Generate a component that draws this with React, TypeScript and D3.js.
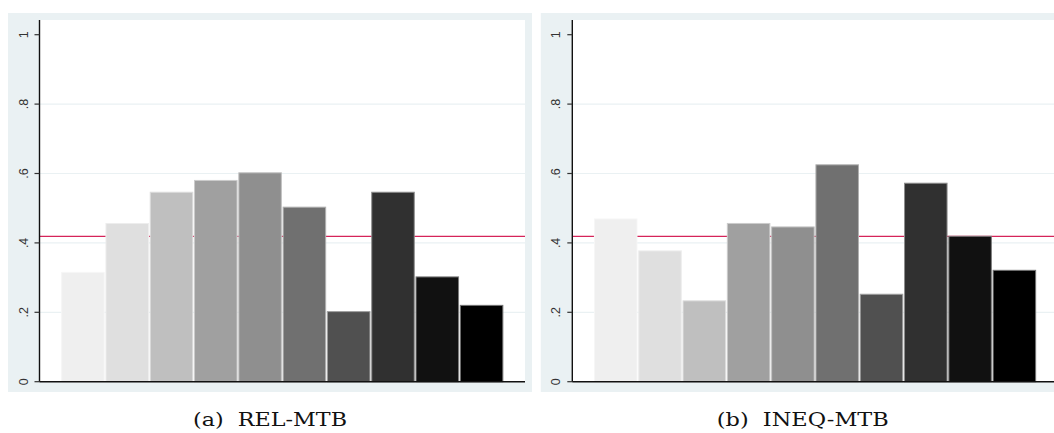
import React from "react";
import * as d3 from "d3";

// ten groups, light to dark, same order in both panels
const groups = ["1", "2", "3", "4", "5", "6", "7", "8", "9", "10"];
const grays = ["#efefef", "#dfdfdf", "#bfbfbf", "#a0a0a0", "#8f8f8f", "#707070", "#505050", "#303030", "#111111", "#000000"];

const relValues = [0.315, 0.456, 0.546, 0.58, 0.602, 0.503, 0.202, 0.546, 0.302, 0.22];
const ineqValues = [0.469, 0.377, 0.233, 0.456, 0.446, 0.625, 0.252, 0.572, 0.419, 0.321];

const relMean = 0.419;
const ineqMean = 0.419;

const yTicks = [0, 0.2, 0.4, 0.6, 0.8, 1];
const yTickLabels = ["0", ".2", ".4", ".6", ".8", "1"];

const captions = ["(a)  REL-MTB", "(b)  INEQ-MTB"];
const captionWidths = [154, 172];

const bg = "#eaf1f3";

type PanelProps = { x0: number; values: number[]; mean: number; caption: string; capW: number };

const Panel = ({ x0, values, mean, caption, capW }: PanelProps) => {
  const outerW = 524;
  const plotL = x0 + 31.5;
  const plotR = plotL + 485.5;
  const plotT = 20;
  const plotB = 381.7;

  const y = d3.scaleLinear().domain([0, 1]).range([plotB, 34.7]);
  const x = d3
    .scaleBand<string>()
    .domain(groups)
    .range([plotL, plotR])
    .paddingInner(0.04)
    .paddingOuter(0.5);

  return (
    <g>
      <rect x={x0} y={13} width={outerW} height={379} fill={bg} />
      <rect x={plotL} y={plotT} width={plotR - plotL} height={plotB - plotT} fill="#ffffff" />
      {yTicks.slice(1, -1).map((t) => (
        <line key={t} x1={plotL} x2={plotR} y1={y(t)} y2={y(t)} stroke={bg} strokeWidth={1.2} />
      ))}
      <line x1={plotL} x2={plotR} y1={y(mean)} y2={y(mean)} stroke="#d5245a" strokeWidth={1.3} />
      {values.map((v, i) => {
        const fill = grays[i];
        return (
          <rect
            key={i}
            x={x(groups[i])!}
            y={y(v)}
            width={x.bandwidth()}
            height={y(0) - y(v)}
            fill={fill}
            stroke={d3.interpolateRgb(fill, "#ffffff")(0.45)}
            strokeWidth={1}
          />
        );
      })}
      <line x1={plotL} x2={plotL} y1={plotT} y2={plotB} stroke="#111" strokeWidth={1.4} />
      <line x1={plotL} x2={plotR} y1={plotB} y2={plotB} stroke="#111" strokeWidth={1.4} />
      {yTicks.map((t, i) => (
        <g key={t}>
          <line x1={plotL - 5} x2={plotL} y1={y(t)} y2={y(t)} stroke="#333" strokeWidth={1.2} />
          <text
            transform={`translate(${plotL - 12},${y(t)}) rotate(-90)`}
            textAnchor="middle"
            fontFamily="Liberation Sans, Arial, sans-serif"
            fontSize={12.5}
            fill="#333"
          >
            {yTickLabels[i]}
          </text>
        </g>
      ))}
      <text
        x={x0 + outerW / 2 - capW / 2}
        y={426}
        textLength={capW}
        lengthAdjust="spacingAndGlyphs"
        fontFamily="DejaVu Serif, Liberation Serif, serif"
        fontSize={18}
        fill="#111"
        style={{ whiteSpace: "pre" }}
      >
        {caption}
      </text>
    </g>
  );
};

export default function App() {
  return (
    <svg
      width={1054}
      height={433}
      style={{ position: "absolute", left: 0, top: 0, background: "#fff" }}
    >
      <Panel x0={8} values={relValues} mean={relMean} caption={captions[0]} capW={captionWidths[0]} />
      <Panel x0={540.8} values={ineqValues} mean={ineqMean} caption={captions[1]} capW={captionWidths[1]} />
    </svg>
  );
}
